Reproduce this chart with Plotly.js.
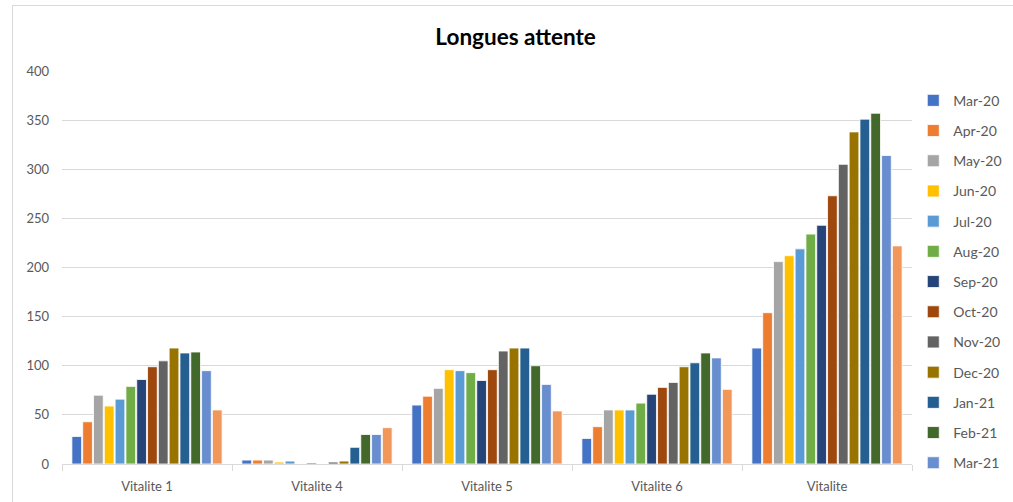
<!DOCTYPE html>
<html>
<head>
<meta charset="utf-8">
<script src="https://cdn.plot.ly/plotly-3.0.1.min.js"></script>
<style>
html,body{margin:0;padding:0;background:#fff;}
#wrap{position:relative;width:1013px;height:502px;}
#chart{position:absolute;left:0;top:0;width:1013px;height:502px;}
#frame{position:absolute;left:12px;top:5px;width:1010px;height:510px;border-left:1px solid #d9d9d9;border-top:1px solid #d9d9d9;pointer-events:none;}
</style>
</head>
<body>
<div id="wrap"><div id="chart"></div><div id="frame"></div></div>
<script>
const categories = ["Vitalite 1", "Vitalite 4", "Vitalite 5", "Vitalite 6", "Vitalite"];
const months = ["Mar-20","Apr-20","May-20","Jun-20","Jul-20","Aug-20","Sep-20","Oct-20","Nov-20","Dec-20","Jan-21","Feb-21","Mar-21","Apr-21"];
const inLegend = [true,true,true,true,true,true,true,true,true,true,true,true,true,false];
const colors = ["#4472C4","#ED7D31","#A5A5A5","#FFC000","#5B9BD5","#70AD47","#264478","#9E480E","#636363","#997300","#255E91","#43682B","#698ED0","#F1975A"];

// values per month, in category order: Vitalite 1, Vitalite 4, Vitalite 5, Vitalite 6, Vitalite
const mar20 = [28, 4, 60, 26, 118];
const apr20 = [43, 4, 69, 38, 154];
const may20 = [70, 4, 77, 55, 206];
const jun20 = [59, 2, 96, 55, 212];
const jul20 = [66, 3, 95, 55, 219];
const aug20 = [79, 0, 93, 62, 234];
const sep20 = [86, 1, 85, 71, 243];
const oct20 = [99, 0, 96, 78, 273];
const nov20 = [105, 2, 115, 83, 305];
const dec20 = [118, 3, 118, 99, 338];
const jan21 = [113, 17, 118, 103, 351];
const feb21 = [114, 30, 100, 113, 357];
const mar21 = [95, 30, 81, 108, 314];
const apr21 = [55, 37, 54, 76, 222];
const series = [mar20,apr20,may20,jun20,jul20,aug20,sep20,oct20,nov20,dec20,jan21,feb21,mar21,apr21];

const yTicks = [0,50,100,150,200,250,300,350,400];

const traces = series.map((vals, i) => ({
  type: "bar",
  name: months[i],
  x: categories,
  y: vals,
  showlegend: inLegend[i],
  legendgroup: months[i],
  marker: {color: colors[i], line: {color: "#ffffff", width: 0.8}},
  hoverinfo: "x+y+name"
}));

const layout = {
  width: 1013, height: 502,
  margin: {l: 62, r: 101, t: 71, b: 38, autoexpand: false},
  paper_bgcolor: "#ffffff", plot_bgcolor: "#ffffff",
  font: {family: "Lato, 'Open Sans', sans-serif", size: 13, color: "#595959"},
  title: {text: "<b>Longues attente</b>", font: {family: "Lato, 'Open Sans', sans-serif", size: 22.5, color: "#000000"}, x: 0.509, xanchor: "center", y: 0.927, yanchor: "middle"},
  barmode: "group",
  bargap: 0.11,
  bargroupgap: 0.1,
  xaxis: {
    type: "category",
    showline: true, linecolor: "#d9d9d9", linewidth: 1,
    ticks: "outside", tickson: "boundaries", ticklen: 6, tickcolor: "#d9d9d9", tickwidth: 1,
    showgrid: false, zeroline: false,
    ticklabelstandoff: 10,
    tickfont: {size: 13, color: "#595959"}
  },
  yaxis: {
    range: [0, 400],
    tickvals: yTicks,
    ticktext: yTicks.map(String),
    showgrid: true, gridcolor: "#d9d9d9", gridwidth: 1,
    zeroline: false, showline: false, ticks: "",
    ticklabelstandoff: 12,
    tickfont: {size: 13, color: "#595959"}
  },
  legend: {
    x: 1.0015, xanchor: "left", y: 0.965, yanchor: "top",
    font: {size: 14, color: "#595959"},
    tracegroupgap: 9,
    itemwidth: 30,
    bgcolor: "rgba(0,0,0,0)"
  },
  showlegend: true
};

Plotly.newPlot("chart", traces, layout, {displayModeBar: false, staticPlot: true});
</script>
</body>
</html>
